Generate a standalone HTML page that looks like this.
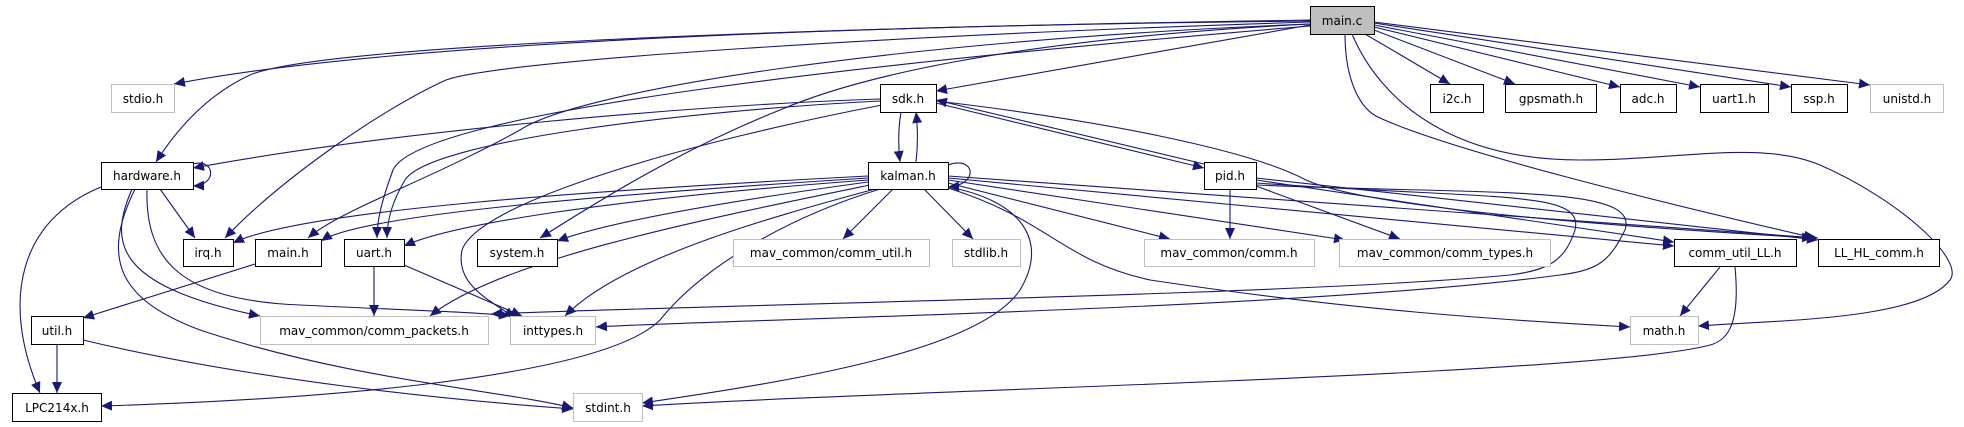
<!DOCTYPE html>
<html><head><style>body{margin:0;background:#fff}svg{display:block}</style></head><body>
<svg width="1964" height="427" viewBox="0 0 1964 427" xmlns="http://www.w3.org/2000/svg" font-family="DejaVu Sans, sans-serif" font-size="12">
<defs><marker id="a" markerUnits="userSpaceOnUse" markerWidth="12" markerHeight="10" refX="11" refY="5" orient="auto"><path d="M0,0 L11,5 L0,10 z" fill="#191970"/></marker></defs>
<g fill="none" stroke="#191970" stroke-width="1.1" marker-end="url(#a)">
<!-- main.c -->
<path d="M1310,21 C900,25 400,40 174,84"/>
<path d="M1310,20 C800,28 320,45 250,75 C200,98 170,140 156,162"/>
<path d="M1310,22 C900,35 500,60 446,80 C380,110 280,180 225,238"/>
<path d="M1310,24 C900,40 580,90 520,130 C430,180 340,210 308,238"/>
<path d="M1310,26 C900,60 420,110 393,170 C382,200 377,220 377,238"/>
<path d="M1310,25 L936,91"/>
<path d="M1310,24 C1000,40 850,80 780,110 C680,150 600,200 540,238"/>
<path d="M1365,34 L1450,84"/>
<path d="M1374,30 L1515,84"/>
<path d="M1374,27 L1620,87"/>
<path d="M1374,25 L1700,87"/>
<path d="M1374,23 L1791,87"/>
<path d="M1374,22 L1870,85"/>
<path d="M1345,34 C1345,80 1360,110 1380,118 C1450,150 1650,200 1815,238"/>
<path d="M1352,34 C1380,100 1450,160 1580,160 C1680,160 1760,140 1820,165 C1900,200 1965,260 1950,280 C1920,320 1780,320 1698,326"/>
<!-- hardware.h -->
<path d="M193,164 C215,158 218,185 193,186"/>
<path d="M160,189 L195,238"/>
<path d="M101,187 C20,220 0,300 40,393"/>
<path d="M132,189 C110,240 110,285 260,316"/>
<path d="M135,189 C100,260 120,300 200,330 C350,380 500,390 573,408"/>
<path d="M147,189 C145,260 180,300 300,305 C400,310 480,312 510,316"/>
<!-- sdk.h -->
<path d="M880,99 C700,105 400,130 193,168"/>
<path d="M901,112 C898,130 898,145 900,162"/>
<path d="M916,162 C918,145 918,130 916,112"/>
<path d="M880,101 C700,110 430,140 405,180 C393,200 387,220 387,238"/>
<path d="M882,105 C700,140 480,200 462,250 C455,285 490,300 515,318"/>
<path d="M936,103 L1204,168"/>
<path d="M1204,164 L936,100"/>
<path d="M936,101 C1100,120 1250,150 1306,180 C1350,200 1500,220 1813,238"/>
<!-- kalman.h -->
<path d="M948,165 C975,155 980,185 948,187"/>
<path d="M868,176 C600,190 300,210 233,243"/>
<path d="M868,178 C600,195 360,215 321,241"/>
<path d="M868,180 C600,200 450,225 404,246"/>
<path d="M868,182 C700,205 600,225 557,241"/>
<path d="M870,185 C700,220 500,260 430,316"/>
<path d="M875,189 C760,220 620,260 565,316"/>
<path d="M880,189 C780,220 700,270 660,320 C600,380 300,400 101,406"/>
<path d="M948,187 C1020,200 1050,240 1020,290 C980,350 800,380 642,403"/>
<path d="M893,189 L843,239"/>
<path d="M924,189 L973,239"/>
<path d="M948,183 L1170,239"/>
<path d="M948,180 L1345,240"/>
<path d="M948,188 C1050,220 1060,260 1150,280 C1350,310 1500,320 1630,327"/>
<path d="M948,178 L1674,246"/>
<path d="M948,176 L1818,238"/>
<!-- pid.h -->
<path d="M1230,189 L1230,239"/>
<path d="M1256,186 L1400,239"/>
<path d="M1256,180 L1674,242"/>
<path d="M1256,178 L1818,240"/>
<path d="M1256,183 C1500,200 1585,190 1575,230 C1565,260 1550,270 1510,275 C1300,295 700,305 491,314"/>
<path d="M1256,185 C1500,195 1640,185 1625,230 C1610,260 1600,270 1560,275 C1300,310 700,320 596,327"/>
<!-- others -->
<path d="M1720,267 L1680,316"/>
<path d="M1735,267 C1740,320 1730,340 1710,345 C1600,375 900,390 642,406"/>
<path d="M255,264 L83,318"/>
<path d="M374,267 L374,316"/>
<path d="M404,265 L522,316"/>
<path d="M57,344 L57,393"/>
<path d="M83,340 C250,380 450,400 573,409"/>
</g>
<g stroke-width="1">
<rect x="1310.5" y="6.5" width="64" height="28" fill="#bfbfbf" stroke="#000"/>
<g fill="#fff" stroke="#000">
<rect x="101.5" y="162.5" width="92" height="27"/>
<rect x="183.5" y="239.5" width="50" height="27"/>
<rect x="255.5" y="239.5" width="66" height="27"/>
<rect x="344.5" y="239.5" width="60" height="27"/>
<rect x="477.5" y="239.5" width="80" height="27"/>
<rect x="31.5" y="316.5" width="52" height="28"/>
<rect x="12.5" y="393.5" width="89" height="28"/>
<rect x="880.5" y="84.5" width="56" height="28"/>
<rect x="868.5" y="162.5" width="80" height="27"/>
<rect x="1204.5" y="162.5" width="52" height="27"/>
<rect x="1430.5" y="84.5" width="53" height="28"/>
<rect x="1505.5" y="84.5" width="91" height="28"/>
<rect x="1620.5" y="84.5" width="56" height="28"/>
<rect x="1700.5" y="84.5" width="68" height="28"/>
<rect x="1791.5" y="84.5" width="56" height="28"/>
<rect x="1674.5" y="239.5" width="122" height="27"/>
<rect x="1818.5" y="239.5" width="121" height="27"/>
</g>
<g fill="#fff" stroke="#bfbfbf">
<rect x="111.5" y="84.5" width="63" height="28"/>
<rect x="260.5" y="316.5" width="228" height="28"/>
<rect x="510.5" y="316.5" width="85" height="28"/>
<rect x="573.5" y="393.5" width="69" height="28"/>
<rect x="733.5" y="239.5" width="196" height="27"/>
<rect x="952.5" y="239.5" width="68" height="27"/>
<rect x="1144.5" y="239.5" width="170" height="27"/>
<rect x="1870.5" y="84.5" width="73" height="28"/>
<rect x="1339.5" y="239.5" width="211" height="27"/>
<rect x="1630.5" y="316.5" width="68" height="28"/>
</g>
</g>
<g text-anchor="middle" fill="#000">
<text x="1342" y="25">main.c</text>
<text x="147" y="180">hardware.h</text>
<text x="208" y="257">irq.h</text>
<text x="288" y="257">main.h</text>
<text x="374" y="257">uart.h</text>
<text x="517" y="257">system.h</text>
<text x="57" y="335">util.h</text>
<text x="57" y="412">LPC214x.h</text>
<text x="908" y="103">sdk.h</text>
<text x="908" y="180">kalman.h</text>
<text x="1230" y="180">pid.h</text>
<text x="1457" y="103">i2c.h</text>
<text x="1551" y="103">gpsmath.h</text>
<text x="1648" y="103">adc.h</text>
<text x="1734" y="103">uart1.h</text>
<text x="1819" y="103">ssp.h</text>
<text x="1735" y="257">comm_util_LL.h</text>
<text x="1879" y="257">LL_HL_comm.h</text>
<text x="143" y="103">stdio.h</text>
<text x="374" y="335">mav_common/comm_packets.h</text>
<text x="553" y="335">inttypes.h</text>
<text x="608" y="412">stdint.h</text>
<text x="831" y="257">mav_common/comm_util.h</text>
<text x="986" y="257">stdlib.h</text>
<text x="1229" y="257">mav_common/comm.h</text>
<text x="1907" y="103">unistd.h</text>
<text x="1445" y="257">mav_common/comm_types.h</text>
<text x="1664" y="335">math.h</text>
</g>
</svg>
</body></html>
